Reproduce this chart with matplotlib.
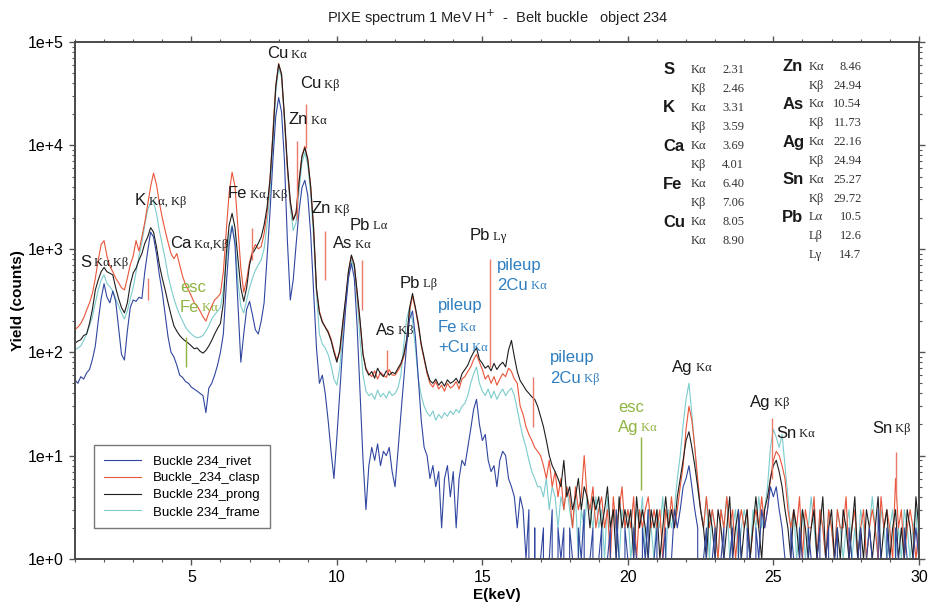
import numpy as np
import matplotlib
matplotlib.use("Agg")
import matplotlib.pyplot as plt
from matplotlib.ticker import MultipleLocator, LogLocator, FuncFormatter, NullFormatter

plt.rcParams['font.family'] = ['Liberation Sans', 'DejaVu Sans']
SERIF = ['Liberation Serif', 'DejaVu Serif']

# channel energies (keV), 0.1 keV bins
energy = np.linspace(1.0, 30.0, 291)

rivet = [54, 50, 58, 55, 63, 68, 85, 115, 200, 330,
         460, 340, 300, 390, 310, 170, 95, 84, 160, 270,
         320, 310, 340, 330, 600, 950, 1450, 1300, 900, 560,
         380, 230, 140, 100, 90, 75, 60, 57, 52, 50,
         46, 44, 42, 40, 38, 26, 45, 50, 60, 75,
         100, 150, 450, 1100, 1650, 1100, 300, 80, 150, 260,
         310, 230, 165, 150, 200, 300, 800, 2200, 7000, 19000,
         29000, 21000, 7000, 1200, 320, 500, 1100, 2300, 3900, 4600,
         3300, 1400, 400, 110, 50, 60, 40, 22, 11, 6,
         15, 40, 110, 260, 520, 720, 520, 170, 40, 9,
         3, 8, 12, 9, 13, 8, 11, 10, 12, 7,
         5, 11, 25, 55, 120, 210, 250, 140, 55, 22,
         12, 10, 6, 8, 5, 7, 2, 6, 8, 4,
         7, 2, 6, 9, 8, 12, 18, 28, 35, 20,
         14, 16, 9, 7, 8, 5, 9, 11, 10, 6,
         5, 4, 2, 4, 3, 1, 3, 0, 2, 0,
         1, 2, 0, 1, 3, 0, 2, 1, 2, 0,
         2, 1, 0, 2, 1, 3, 0, 1, 2, 0,
         1, 2, 0, 1, 2, 0, 3, 1, 0, 2,
         1, 0, 2, 1, 0, 2, 1, 3, 0, 1,
         2, 0, 1, 2, 0, 1, 3, 2, 3, 5,
         6, 8, 5, 3, 2, 0, 1, 2, 0, 1,
         2, 0, 1, 2, 0, 1, 2, 0, 3, 1,
         0, 2, 1, 0, 2, 1, 3, 2, 3, 5,
         4, 5, 3, 2, 1, 0, 2, 1, 0, 2,
         1, 0, 2, 1, 0, 1, 2, 0, 1, 2,
         0, 1, 2, 0, 1, 0, 2, 1, 0, 1,
         2, 0, 1, 2, 1, 0, 3, 1, 0, 2,
         1, 0, 2, 1, 0, 2, 1, 0, 1, 2, 1]

clasp = [165, 175, 190, 215, 255, 300, 370, 520, 780, 1100,
         1200, 850, 680, 600, 520, 470, 420, 400, 520, 700,
         850, 1200, 950, 1300, 1800, 2700, 4000, 5400, 4200, 2800,
         2000, 1500, 1150, 900, 800, 900, 700, 540, 450, 400,
         350, 300, 280, 250, 220, 200, 240, 280, 320, 340,
         370, 600, 1500, 3500, 5500, 4000, 1600, 650, 380, 500,
         750, 950, 1100, 1000, 1050, 1400, 2200, 4500, 13000, 38000,
         62000, 48000, 18000, 6000, 2800, 1900, 2300, 4500, 8000, 9800,
         7500, 4000, 1600, 400, 250, 200, 175, 160, 135, 105,
         84, 100, 180, 320, 600, 860, 700, 360, 190, 95,
         70, 62, 58, 66, 55, 64, 60, 57, 68, 60,
         60, 66, 75, 90, 125, 250, 350, 260, 180, 115,
         85, 62, 50, 46, 52, 44, 48, 42, 50, 45,
         47, 52, 44, 55, 58, 65, 72, 85, 95, 80,
         68, 55, 60, 50, 58, 48, 55, 62, 58, 70,
         65, 55, 50, 30, 25, 19, 16, 14, 12, 11,
         10, 8, 6, 9, 5, 7, 4, 6, 3, 5,
         4, 2, 5, 3, 4, 10, 4, 3, 5, 2,
         3, 4, 2, 3, 1, 4, 2, 3, 5, 2,
         3, 2, 4, 1, 3, 2, 3, 4, 2, 3,
         2, 3, 1, 3, 2, 4, 2, 3, 5, 8,
         18, 30, 22, 12, 6, 3, 2, 4, 2, 3,
         2, 1, 3, 2, 4, 2, 3, 1, 2, 3,
         2, 3, 1, 2, 3, 2, 4, 2, 3, 6,
         9, 11, 10, 8, 6, 3, 2, 3, 2, 4,
         1, 3, 2, 2, 4, 1, 3, 2, 1, 3,
         2, 1, 3, 2, 2, 4, 1, 2, 3, 1,
         2, 3, 1, 2, 3, 2, 1, 4, 2, 3,
         2, 1, 6, 2, 3, 1, 2, 3, 2, 1, 2]

prong = [122, 128, 132, 145, 150, 190, 260, 400, 500, 600,
         660, 600, 580, 560, 420, 330, 270, 240, 300, 450,
         580, 650, 780, 900, 1130, 1300, 1600, 1450, 1050, 700,
         520, 400, 300, 230, 180, 160, 145, 135, 128, 122,
         115, 108, 110, 102, 98, 104, 115, 130, 150, 170,
         190, 300, 900, 1700, 2200, 1600, 800, 420, 310, 420,
         700, 900, 1000, 1130, 1300, 1700, 2500, 4600, 12000, 37000,
         61000, 49000, 19000, 6500, 2900, 1900, 2200, 4400, 7800, 9500,
         7300, 4000, 1600, 420, 240, 195, 175, 155, 130, 100,
         80, 105, 190, 330, 610, 870, 700, 380, 200, 95,
         68, 60, 65, 56, 70, 62, 58, 66, 60, 64,
         62, 70, 78, 95, 135, 270, 370, 270, 190, 120,
         88, 65, 53, 50, 55, 48, 52, 47, 54, 50,
         52, 56, 50, 62, 68, 75, 88, 100, 110, 85,
         78, 70, 74, 66, 78, 68, 75, 80, 72, 105,
         130, 90, 65, 53, 48, 43, 40, 37, 35, 30,
         24, 19, 14, 10, 8, 7, 6, 5, 9, 4,
         5, 3, 4, 6, 3, 5, 4, 2, 4, 3,
         4, 2, 3, 5, 2, 3, 1, 4, 2, 3,
         2, 3, 1, 4, 2, 3, 2, 1, 3, 2,
         3, 1, 2, 4, 2, 3, 2, 4, 6, 9,
         14, 17, 12, 8, 5, 3, 2, 1, 3, 2,
         1, 3, 2, 1, 2, 4, 1, 2, 3, 1,
         2, 3, 1, 2, 4, 2, 1, 3, 4, 6,
         8, 9, 7, 5, 3, 2, 1, 3, 2, 1,
         3, 2, 1, 2, 3, 1, 2, 4, 1, 2,
         3, 1, 2, 1, 3, 2, 1, 2, 4, 1,
         2, 1, 3, 2, 1, 2, 4, 1, 2, 3,
         1, 2, 3, 1, 2, 1, 3, 2, 1, 4, 2]

frame = [105, 110, 115, 130, 150, 180, 220, 300, 400, 500,
         560, 460, 430, 390, 330, 280, 240, 210, 250, 330,
         420, 600, 850, 1150, 1700, 2400, 2800, 2900, 2200, 1500,
         1100, 800, 550, 420, 330, 270, 230, 200, 175, 160,
         150, 142, 138, 140, 145, 160, 180, 210, 230, 250,
         270, 400, 750, 1300, 1700, 1200, 480, 280, 240, 320,
         420, 520, 620, 700, 780, 1000, 1700, 3500, 10000, 32000,
         56000, 45000, 17000, 5800, 2500, 1500, 1800, 3600, 6800, 8500,
         6500, 3400, 1300, 370, 150, 120, 110, 95, 75, 55,
         48, 70, 150, 300, 550, 780, 640, 320, 130, 60,
         42, 38, 40, 35, 43, 37, 40, 36, 42, 38,
         40, 45, 60, 120, 210, 270, 200, 110, 55, 38,
         30, 26, 24, 27, 22, 25, 23, 26, 24, 27,
         25, 28, 26, 30, 32, 38, 50, 62, 72, 50,
         42, 38, 44, 36, 42, 35, 40, 44, 38, 42,
         45, 38, 28, 20, 15, 12, 9, 7, 6, 5,
         5, 4, 6, 3, 5, 4, 2, 4, 3, 5,
         3, 2, 4, 1, 3, 2, 4, 3, 2, 4,
         2, 3, 1, 4, 2, 3, 2, 1, 3, 2,
         3, 1, 2, 3, 2, 4, 1, 3, 2, 1,
         3, 2, 4, 1, 3, 2, 3, 6, 10, 20,
         35, 50, 25, 12, 5, 3, 2, 4, 1, 3,
         2, 1, 3, 2, 4, 1, 2, 3, 1, 2,
         3, 2, 1, 3, 2, 4, 2, 3, 5, 12,
         18, 15, 12, 16, 8, 4, 2, 3, 1, 2,
         3, 1, 2, 4, 2, 1, 3, 2, 1, 3,
         2, 1, 3, 2, 1, 2, 3, 1, 2, 1,
         3, 2, 1, 2, 4, 2, 1, 3, 2, 1,
         2, 3, 1, 2, 1, 3, 2, 1, 2, 3, 1]

series_names = ["Buckle 234_rivet", "Buckle_234_clasp", "Buckle 234_prong", "Buckle 234_frame"]

# element line markers drawn by the fitting software (keV, low count, high count)
marker_e = [3.51, 7.08, 8.63, 8.94, 9.59, 10.86, 11.73, 15.26, 16.74, 24.94, 29.21]
marker_lo = [320, 780, 1900, 9500, 500, 255, 63, 72, 19, 6, 3.7]
marker_hi = [520, 1600, 11000, 25000, 1500, 780, 105, 800, 57, 23, 10.8]
esc_e = [4.81, 20.45]
esc_lo = [72, 4.6]
esc_hi = [139, 15]

# peak labels: energy, count, element, line
peak_e = [1.17, 3.06, 4.26, 6.26, 7.60, 8.73, 8.35, 9.14, 10.45, 9.87, 12.17, 11.34,
          14.57, 21.52, 24.20, 25.09, 28.39]
peak_y = [741, 2940, 1130, 3440, 77400, 39700, 17800, 2460, 1690, 1130, 464, 163,
          1350, 71.6, 32.9, 16.5, 18.4]
peak_el = ["S", "K", "Ca", "Fe", "Cu", "Cu", "Zn", "Zn", "Pb", "As", "Pb", "As",
           "Pb", "Ag", "Ag", "Sn", "Sn"]
peak_ln = ["Kα,Kβ", "Kα, Kβ", "Kα,Kβ", "Kα, Kβ", "Kα", "Kβ", "Kα", "Kβ", "Lα", "Kα", "Lβ", "Kβ",
           "Lγ", "Kα", "Kβ", "Kα", "Kβ"]

pile_e = [15.50, 15.50, 13.47, 13.47, 13.47, 17.32, 17.32]
pile_y = [693, 444, 284, 175, 112, 89.5, 56.1]
pile_el = ["pileup", "2Cu", "pileup", "Fe", "+Cu", "pileup", "2Cu"]
pile_ln = ["", "Kα", "", "Kα", "Kα", "", "Kβ"]

esc_lab_e = [19.66, 19.66, 4.61, 4.61]
esc_lab_y = [29.4, 18.9, 425, 272]
esc_lab_el = ["esc", "Ag", "esc", "Fe"]
esc_lab_ln = ["", "Kα", "", "Kα"]

tbl1_el = ["S", "", "K", "", "Ca", "", "Fe", "", "Cu", ""]
tbl1_ln = ["Kα", "Kβ", "Kα", "Kβ", "Kα", "Kβ", "Kα", "Kβ", "Kα", "Kα"]
tbl1_val = ["2.31", "2.46", "3.31", "3.59", "3.69", "4.01", "6.40", "7.06", "8.05", "8.90"]
tbl2_el = ["Zn", "", "As", "", "Ag", "", "Sn", "", "Pb", "", ""]
tbl2_ln = ["Kα", "Kβ", "Kα", "Kβ", "Kα", "Kβ", "Kα", "Kβ", "Lα", "Lβ", "Lγ"]
tbl2_val = ["8.46", "24.94", "10.54", "11.73", "22.16", "24.94", "25.27", "29.72", "10.5", "12.6", "14.7"]

C_RIVET = "#3046a0"
C_CLASP = "#e8553a"
C_PRONG = "#1e1e1e"
C_FRAME = "#7ccccc"
C_TXT = "#1a1a1a"
C_PILE = "#2f7fc0"
C_ESC = "#8fb440"

fig = plt.figure(figsize=(9.3, 6.08), dpi=100)
ax = fig.add_axes([0.0806, 0.0806, 0.9074, 0.8503])

l_frame, = ax.plot(energy, frame, color=C_FRAME, lw=0.8, label=series_names[3])
l_clasp, = ax.plot(energy, clasp, color=C_CLASP, lw=0.8, label=series_names[1])
l_prong, = ax.plot(energy, prong, color=C_PRONG, lw=0.8, label=series_names[2])
l_rivet, = ax.plot(energy, rivet, color=C_RIVET, lw=0.8, label=series_names[0])

ax.vlines(marker_e, marker_lo, marker_hi, color="#ec7a68", lw=1.0)
ax.vlines(esc_e, esc_lo, esc_hi, color=C_ESC, lw=1.0)

ax.set_yscale("log", nonpositive="clip")
ax.set_xlim(1, 30)
ax.set_ylim(1, 1e5)

ax.xaxis.set_major_locator(MultipleLocator(5))
ax.xaxis.set_minor_locator(MultipleLocator(1))
ax.yaxis.set_major_locator(LogLocator(base=10, numticks=10))
ax.yaxis.set_minor_locator(LogLocator(base=10, subs=np.arange(2, 10), numticks=20))
ax.yaxis.set_minor_formatter(NullFormatter())
ax.yaxis.set_major_formatter(FuncFormatter(lambda v, p: "1e+%d" % int(round(np.log10(v)))))
ax.tick_params(which="both", direction="out", top=True, right=True, color="#555555")
ax.tick_params(which="major", length=4, width=1, labelsize=11.5, pad=4)
ax.tick_params(which="minor", length=2.5, width=0.8)
for sp in ax.spines.values():
    sp.set_color("#4a4a4a")
    sp.set_linewidth(1.4)

ax.set_xlabel("E(keV)", fontsize=11, fontweight="bold", labelpad=2)
ax.set_ylabel("Yield (counts)", fontsize=11, fontweight="bold", labelpad=2)
fig.text(0.535, 0.97, r"PIXE spectrum 1 MeV H$^{+}$  -  Belt buckle   object 234",
         ha="center", va="center", fontsize=10.5, color="#222222")


def label(e, y, head, tail, color):
    t = ax.text(e, y, head, fontsize=12, color=color, ha="left", va="center")
    if tail:
        ax.annotate(" " + tail, xy=(1.0, 0.42), xycoords=t, fontsize=9,
                    family=SERIF, color=color, ha="left", va="center")


for e, y, el, ln in zip(peak_e, peak_y, peak_el, peak_ln):
    label(e, y, el, ln, C_TXT)
for e, y, el, ln in zip(pile_e, pile_y, pile_el, pile_ln):
    label(e, y, el, ln, C_PILE)
for e, y, el, ln in zip(esc_lab_e, esc_lab_y, esc_lab_el, esc_lab_ln):
    label(e, y, el, ln, C_ESC)

# line energy table
for i in range(len(tbl1_el)):
    fy = 0.946 - i * 0.0368
    ax.text(0.697, fy, tbl1_el[i], transform=ax.transAxes, fontsize=12,
            fontweight="bold", va="center", color=C_TXT)
    ax.text(0.730, fy, tbl1_ln[i], transform=ax.transAxes, fontsize=9,
            family=SERIF, va="center", color="#333333")
    ax.text(0.793, fy, tbl1_val[i], transform=ax.transAxes, fontsize=9,
            family=SERIF, va="center", ha="right", color="#333333")
for i in range(len(tbl2_el)):
    fy = 0.952 - i * 0.0364
    ax.text(0.838, fy, tbl2_el[i], transform=ax.transAxes, fontsize=12,
            fontweight="bold", va="center", color=C_TXT)
    ax.text(0.870, fy, tbl2_ln[i], transform=ax.transAxes, fontsize=9,
            family=SERIF, va="center", color="#333333")
    ax.text(0.932, fy, tbl2_val[i], transform=ax.transAxes, fontsize=9,
            family=SERIF, va="center", ha="right", color="#333333")

leg = ax.legend([l_rivet, l_clasp, l_prong, l_frame], series_names,
                loc="lower left", bbox_to_anchor=(0.0225, 0.06), borderaxespad=0,
                fancybox=False, fontsize=9.5, handlelength=2.8, labelspacing=0.35,
                borderpad=0.75, handletextpad=0.9, framealpha=1)
leg.get_frame().set_edgecolor("#777777")
leg.get_frame().set_linewidth(1.0)

fig.savefig("out.png", dpi=100)
